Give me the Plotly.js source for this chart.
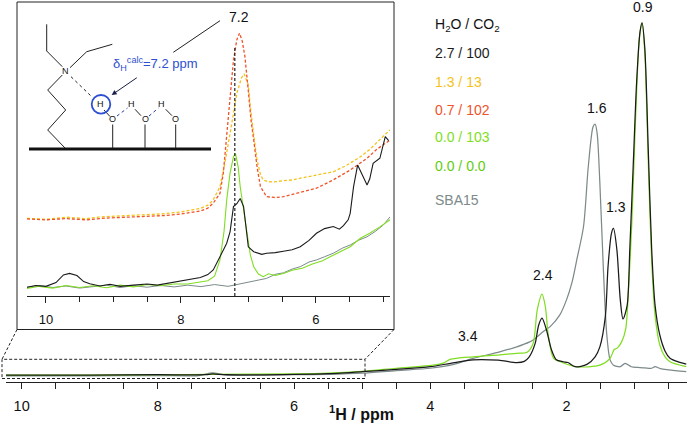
<!DOCTYPE html>
<html>
<head>
<meta charset="utf-8">
<script src="https://cdn.plot.ly/plotly-3.0.1.min.js"></script>
<style>html,body{margin:0;padding:0;background:#fff;}#chart{width:689px;height:424px;}</style>
</head>
<body>
<div id="chart"></div>
<script>
// ---------------- DATA ----------------
// Main spectrum (1H shift in ppm, intensity in arbitrary units)
const mainGrayPpm = [10.23,9.0,8.0,7.4,7.2,7.0,6.5,6.0,5.5,5.0,4.5,4.0,3.7,3.37,2.98,2.73,2.54,2.49,2.34,2.24,2.1,2.0,1.92,1.85,1.75,1.68,1.61,1.58,1.55,1.51,1.46,1.41,1.36,1.31,1.21,1.14,1.05,0.95,0.85,0.75,0.70,0.62,0.5,0.24];
const mainGrayInt = [1.6,1.6,1.7,1.7,2.4,1.8,1.8,1.9,2.0,2.3,3.0,3.6,4.4,6.2,7.9,9.2,10.5,11.0,13.2,14.5,17.5,21.5,26,31.9,40.7,56.4,66.8,67.5,65.1,52,30.2,12.7,5.8,4.4,4.0,4.9,4.0,3.8,3.7,3.6,4.0,3.5,3.2,2.7];

const mainBlackPpm = [10.23,9.0,8.0,7.3,7.2,7.0,6.0,5.5,5.0,4.5,4.0,3.7,3.37,3.0,2.73,2.62,2.55,2.46,2.41,2.36,2.3,2.22,2.15,2.05,1.98,1.875,1.7,1.58,1.51,1.43,1.39,1.34,1.31,1.26,1.21,1.17,1.11,1.07,1.02,0.97,0.92,0.89,0.85,0.80,0.75,0.70,0.63,0.55,0.48,0.35,0.24];
const mainBlackInt = [1.8,1.8,1.9,1.9,2.1,1.9,2.0,2.2,2.7,3.3,4.0,4.9,5.8,5.7,5.1,5.4,6.5,10.1,14.8,16.7,14.0,8.4,5.8,5.3,5.1,4.0,4.6,6.6,9.2,17.1,30.2,38.9,40.2,34.6,21.5,16.5,20.0,35.0,56.8,78.6,91.7,94.0,87.3,61.2,35.0,20.2,12.3,8.0,6.2,5.2,4.7];

const mainGreenPpm = [10.23,9.0,8.0,7.2,6.0,5.5,5.0,4.5,3.96,3.8,3.71,3.37,2.98,2.73,2.58,2.49,2.43,2.36,2.31,2.27,2.19,2.09,1.85,1.51,1.36,1.30,1.26,1.19,1.13,1.09,1.04,1.0,0.97,0.93,0.89,0.85,0.80,0.75,0.70,0.63,0.55,0.48,0.24];
const mainGreenInt = [1.8,1.8,1.9,2.0,2.1,2.3,2.8,3.6,4.4,5.0,5.9,6.6,7.1,7.5,7.8,10.1,18.8,23.0,19.7,12.7,6.2,5.3,4.0,4.4,6.2,8.5,8.8,10.5,14.0,24.0,42.0,62.0,76.0,90.0,94.0,86.0,58.0,32.0,17.5,9.7,6.5,5.3,4.0];

// Inset spectrum (10.3 - 4.9 ppm, expanded intensity)
const insetGrayPpm = [10.28,10.1,9.9,9.7,9.5,9.3,9.1,8.9,8.7,8.5,8.3,8.1,7.9,7.7,7.5,7.3,7.1,6.97,6.85,6.73,6.6,6.48,6.35,6.23,6.1,5.99,5.87,5.74,5.6,5.49,5.37,5.24,5.12,5.0,4.9];
const insetGrayInt = [3.0,3.6,2.9,3.4,2.7,3.3,3.7,2.9,3.5,3.0,3.6,3.1,3.7,3.2,3.9,3.3,4.2,4.9,5.2,6.0,7.4,7.9,9.2,10.0,11.6,12.3,13.4,14.6,16.4,17.4,19.0,20.2,22.0,24.2,27.0];

const insetGreenPpm = [10.28,10.1,9.9,9.7,9.5,9.3,9.1,8.9,8.7,8.5,8.3,8.1,7.9,7.7,7.6,7.5,7.42,7.36,7.32,7.27,7.22,7.19,7.15,7.12,7.07,7.02,6.97,6.92,6.85,6.78,6.7,6.6,6.48,6.35,6.2,6.05,5.9,5.75,5.6,5.49,5.34,5.2,5.05,4.9];
const insetGreenInt = [2.6,3.3,2.7,3.6,2.9,3.5,2.8,3.7,3.1,3.9,3.5,4.1,4.1,4.7,5.2,6.8,12.3,22.0,32.8,42.0,47.5,48.6,44.0,37.3,29.0,21.4,14.0,10.0,7.5,6.6,7.6,7.0,7.7,8.8,9.5,10.9,12.0,13.8,15.5,16.8,19.7,21.4,23.6,26.0];

const insetBlackPpm = [10.28,10.15,10.0,9.85,9.74,9.65,9.54,9.44,9.35,9.2,9.05,8.9,8.7,8.5,8.35,8.21,8.05,7.96,7.85,7.71,7.6,7.52,7.42,7.32,7.27,7.22,7.17,7.12,7.07,7.03,7.0,6.92,6.8,6.73,6.6,6.48,6.35,6.23,6.1,5.99,5.87,5.74,5.65,5.59,5.52,5.49,5.44,5.38,5.32,5.24,5.2,5.15,5.05,4.97,4.92];
const insetBlackInt = [3.0,3.6,3.3,4.6,7.2,7.7,7.0,4.9,4.2,3.4,4.0,3.3,3.7,4.1,3.7,4.3,4.9,5.3,5.9,6.3,7.3,8.9,13.4,18.0,22.0,30.5,31.5,33.3,30.5,22.0,16.8,15.1,14.2,14.6,14.8,15.3,15.8,16.8,19.0,21.4,23.0,23.7,22.8,24.0,26.0,28.2,37.3,44.7,41.9,37.9,40.0,45.3,47.0,54.4,53.0];

const insetYellowPpm = [10.28,10.0,9.7,9.4,9.2,8.9,8.6,8.3,8.0,7.71,7.6,7.52,7.42,7.35,7.27,7.17,7.1,7.06,7.0,6.97,6.92,6.87,6.82,6.78,6.7,6.63,6.5,6.35,6.23,6.0,5.74,5.55,5.34,5.2,5.1,5.0,4.9];
const insetYellowInt = [26.5,26.2,26.9,26.4,27.0,27.3,27.6,28.0,28.7,29.9,31.0,32.8,37.3,45.0,55.5,69.2,74.5,75.8,72.0,64.6,55.0,46.4,41.5,39.6,39.0,38.9,39.3,39.6,40.2,41.3,42.4,44.5,47.5,50.0,52.1,54.5,56.7];

const insetRedPpm = [10.28,10.0,9.7,9.4,9.1,8.8,8.5,8.21,8.0,7.71,7.6,7.52,7.42,7.37,7.32,7.27,7.22,7.17,7.13,7.09,7.05,7.0,6.96,6.92,6.87,6.82,6.73,6.6,6.48,6.3,6.1,5.99,5.75,5.49,5.24,5.1,4.9];
const insetRedInt = [26.3,26.0,26.4,26.0,26.6,26.8,27.2,27.5,28.0,29.0,30.0,31.7,35.0,42.0,55.5,68.0,80.5,87.5,89.7,87.0,81.7,70.0,60.0,53.2,44.0,37.3,33.9,33.6,33.9,35.0,36.0,36.8,39.5,43.0,47.0,50.0,53.2];

// Labels
const peakLabels = ["0.9","1.3","1.6","2.4","3.4"];
const legendTitle = "H<sub>2</sub>O / CO<sub>2</sub>";
const legendLabels = ["2.7 / 100","1.3 / 13","0.7 / 102","0.0 / 103","0.0 / 0.0","SBA15"];
const mainTicks = [10,8,6,4,2];
const insetTicks = [10,8,6];
const insetRange = [10.28, 4.9];
const markPpm = 7.2;

// ---------------- STYLE / LAYOUT ----------------
const W = 689, PB = 382;
const px = x => x / W;
const py = y => (PB - y) / PB;

const C = {black:'#1b1b1b', green:'#80de22', green2:'#62cc12', gray:'#7d8a8a', yellow:'#f5c21a', red:'#f0532a', blue:'#2d4fd0'};
const FONT = 'Liberation Sans, Arial, Helvetica, sans-serif';

function tr(x, y, color, xa, ya, dash, w) {
  return {x: x, y: y, type:'scatter', mode:'lines', xaxis: xa, yaxis: ya, hoverinfo:'skip',
    line: {color: color, width: w || 1.25, dash: dash || 'solid', shape: xa === 'x' ? 'spline' : 'linear', smoothing: 0.8}, showlegend:false};
}
const traces = [
  tr(mainGrayPpm, mainGrayInt, C.gray, 'x', 'y'),
  tr(mainGreenPpm, mainGreenInt, C.green, 'x', 'y'),
  tr(mainBlackPpm, mainBlackInt, C.black, 'x', 'y'),
  tr(insetYellowPpm, insetYellowInt, C.yellow, 'x2', 'y2', '3px,2px', 1.3),
  tr(insetRedPpm, insetRedInt, C.red, 'x2', 'y2', '3px,2px', 1.3),
  tr(insetGrayPpm, insetGrayInt, C.gray, 'x2', 'y2', 'solid', 1),
  tr(insetGreenPpm, insetGreenInt, C.green, 'x2', 'y2', 'solid', 1.1),
  tr(insetBlackPpm, insetBlackInt, C.black, 'x2', 'y2', 'solid', 1.1)
];

function seg(x0, y0, x1, y1, color, width, dash) {
  return {type:'line', xref:'paper', yref:'paper', x0:px(x0), y0:py(y0), x1:px(x1), y1:py(y1),
    line:{color: color || '#111', width: width || 1, dash: dash || 'solid'}};
}
const shapes = [
  {type:'rect', xref:'paper', yref:'paper', x0:px(17), y0:py(329.5), x1:px(394), y1:py(2),
   line:{color:'#222', width:1}, fillcolor:'rgba(255,255,255,0)', layer:'below'},
  {type:'rect', xref:'paper', yref:'paper', x0:px(2), y0:py(378.5), x1:px(365), y1:py(359.3),
   line:{color:'#222', width:1, dash:'3px,2px'}},
  seg(17, 329.5, 2, 359.3, '#222', 1, '3px,2px'),
  seg(394, 329.5, 365, 359.3, '#222', 1, '3px,2px'),
  {type:'line', xref:'x2', yref:'y2', x0:markPpm, x1:markPpm, y0:0, y1:85, line:{color:'#222', width:1.2, dash:'3px,2px'}},
  seg(173.3, 52.3, 220, 20.7, '#222', 1),
  // structure
  seg(46.7, 24.3, 46.7, 51, '#222', 1),
  seg(46.7, 51, 62.3, 66.7, '#222', 1),
  seg(70, 67.7, 86.7, 51.7, '#222', 1),
  seg(86.7, 51.7, 112.3, 44.3, '#222', 1),
  seg(62.3, 75, 47.7, 90, '#222', 1),
  seg(47.7, 90, 65.7, 110, '#222', 1),
  seg(65.7, 110, 47.7, 130, '#222', 1),
  seg(47.7, 130, 65, 148, '#222', 1),
  seg(71, 76.7, 91.7, 96.7, '#222', 1, 'dot'),
  seg(29, 149, 211, 149, '#111', 3.2),
  seg(112.7, 124.5, 112.7, 148, '#222', 1),
  seg(145, 124.5, 145, 148, '#222', 1),
  seg(175.7, 124.5, 175.7, 148, '#222', 1),
  seg(104, 110, 110, 116.5, '#222', 1),
  seg(135, 109.3, 141, 115.7, '#222', 1),
  seg(165.7, 109.3, 172, 115.7, '#222', 1),
  seg(117, 116, 127.5, 108, '#1e3a9a', 1, 'dot'),
  seg(149, 116, 158.5, 108, '#1e3a9a', 1, 'dot'),
  {type:'circle', xref:'paper', yref:'paper', x0:px(101-9.3), x1:px(101+9.3), y0:py(104.3+9.3), y1:py(104.3-9.3),
   line:{color:C.blue, width:1.8}}
];

function ann(text, x, y, size, color, xanchor, extra) {
  return Object.assign({text: text, xref:'paper', yref:'paper', x:px(x), y:py(y), showarrow:false,
    xanchor: xanchor || 'center', yanchor:'middle', font:{family:FONT, size:size, color:color || '#111'}}, extra || {});
}
const peakPos = [[643,7.5],[616,207],[597,108],[543,275],[468,336]];
const legColors = [C.black, C.yellow, C.red, C.green, C.green2, C.gray];
const legY = [53,82,110,137.5,166,200];
const annotations = [];
peakLabels.forEach((t,i) => annotations.push(ann(t, peakPos[i][0], peakPos[i][1], 14)));
annotations.push(ann(legendTitle, 433, 25, 14, '#111', 'left'));
legendLabels.forEach((t,i) => annotations.push(ann(t, 433, legY[i], 14, legColors[i], 'left')));
annotations.push(ann('<b><sup>1</sup>H / ppm</b>', 361, 413, 16, '#111'));
annotations.push(ann(String(markPpm), 239, 17, 14));
annotations.push(ann('δ<sub>H</sub><sup>calc</sup>=7.2 ppm', 110.5, 63.5, 13, C.blue, 'left'));
annotations.push(ann('N', 65.7, 71, 9));
annotations.push(ann('H', 100, 104.3, 9));
annotations.push(ann('H', 131, 104.3, 9));
annotations.push(ann('H', 161.7, 104.3, 9));
annotations.push(ann('O', 112.7, 119.5, 9));
annotations.push(ann('O', 145, 119.5, 9));
annotations.push(ann('O', 175.7, 119.5, 9));
annotations.push({text:'', xref:'paper', yref:'paper', x:px(111.7), y:py(95), ax:26.6, ay:-18.3,
  showarrow:true, arrowhead:2, arrowsize:1, arrowwidth:1, arrowcolor:'#1a1f4a'});

const axBase = {showgrid:false, zeroline:false, showline:true, linecolor:'#222', linewidth:1,
  ticks:'outside', ticklen:6, tickcolor:'#222', tickwidth:1};
const layout = {
  width: 689, height: 424, margin:{l:0, r:0, t:0, b:42},
  paper_bgcolor:'#fff', plot_bgcolor:'rgba(0,0,0,0)', showlegend:false,
  font:{family:FONT, color:'#111'},
  xaxis: Object.assign({}, axBase, {domain:[6/W, 686.7/W], range:[10.23, 0.235], anchor:'y',
    tickvals: mainTicks, ticktext: mainTicks.map(String), tickfont:{size:14.5, family:FONT}, ticklabelstandoff:5,
    minor:{dtick:0.5, tick0:0, ticks:'outside', ticklen:6, tickcolor:'#222', showgrid:false}}),
  yaxis: {domain:[0,1], range:[0,100], visible:false, fixedrange:true},
  xaxis2: Object.assign({}, axBase, {domain:[27/W, 390/W], range: insetRange, anchor:'y2',
    tickvals: insetTicks, ticktext: insetTicks.map(String), tickfont:{size:13, family:FONT}, ticklabelstandoff:5,
    minor:{dtick:0.5, tick0:0, ticks:'outside', ticklen:5, tickcolor:'#222', showgrid:false}}),
  yaxis2: {domain:[py(296), py(3)], range:[0,100], visible:false, anchor:'x2'},
  shapes: shapes, annotations: annotations
};
Plotly.newPlot('chart', traces, layout, {staticPlot:true, displayModeBar:false});
</script>
</body>
</html>
